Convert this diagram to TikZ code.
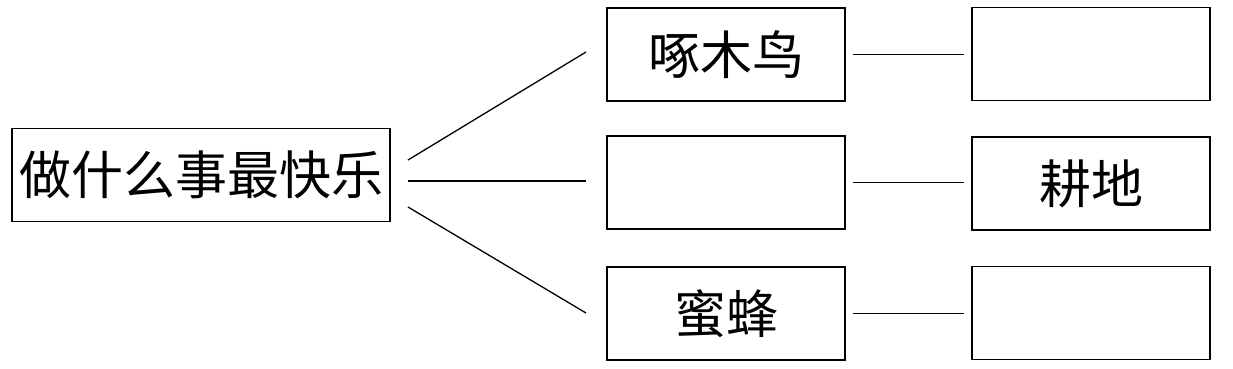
\documentclass[tikz,border=0pt]{standalone}
\usepackage{fontspec}
\newfontfamily\cjk{Noto Sans CJK SC}
\begin{document}
\begin{tikzpicture}[x=1pt,y=-1pt,
  box/.style={draw,line width=1.6pt,minimum width=#1,minimum height=93pt,inner sep=0pt,font=\cjk\fontsize{52}{60}\selectfont},
  link/.style={line width=1.3pt}]
\useasboundingbox (0,0) rectangle (1233,369);
\node[box=378pt] (q) at (201,175) {做什么事最快乐};
\node[box=238pt] (m1) at (726,54.5) {啄木鸟};
\node[box=238pt] (m2) at (726,182.5) {};
\node[box=238pt] (m3) at (726,313.5) {蜜蜂};
\node[box=238pt] (r1) at (1091,54) {};
\node[box=238pt] (r2) at (1091,183.5) {耕地};
\node[box=238pt] (r3) at (1091,313) {};
\coordinate (qa) at (408,160);
\coordinate (qb) at (408,181);
\coordinate (qc) at (408,207);
\coordinate (m1a) at (586,52);
\coordinate (m2a) at (586,181);
\coordinate (m3a) at (586,313);
\draw[link] (qa) -- (m1a);
\draw[link] (qb) -- (m2a);
\draw[link] (qc) -- (m3a);
\draw[link,shorten <=7pt,shorten >=7pt] (m1.east) -- (m1.east -| r1.west);
\draw[link,shorten <=7pt,shorten >=7pt] (m2.east) -- (m2.east -| r2.west);
\draw[link,shorten <=7pt,shorten >=7pt] (m3.east) -- (m3.east -| r3.west);
\end{tikzpicture}
\end{document}
